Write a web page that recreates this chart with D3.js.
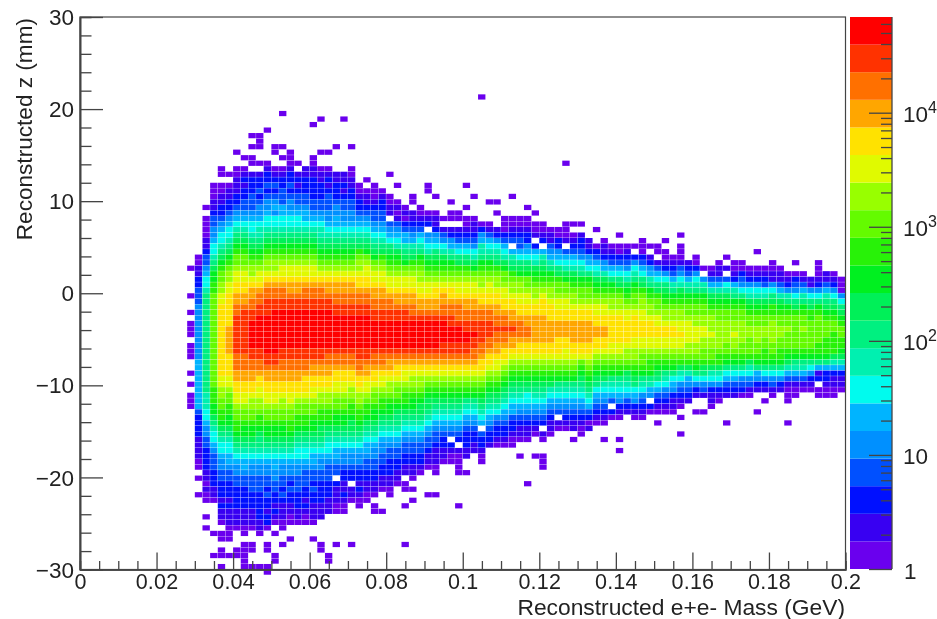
<!DOCTYPE html>
<html><head><meta charset="utf-8">
<script src="https://cdn.jsdelivr.net/npm/d3@7"></script>
<style>
html,body{margin:0;padding:0;background:#fff;overflow:hidden}
svg{display:block;filter:blur(0.45px)}
text{font-family:"Liberation Sans",Arial,sans-serif;fill:#222}
</style></head><body>
<svg id="c" width="937" height="619"></svg>
<script>
// Histogram: 100 x 100 bins. Each column lists colour levels from its first filled row downward.
const massBinCount = 100, zBinCount = 100, firstColumn = 14;
const startRows = [45,43,34,30,27,28,24,25,21,21,20,23,17,24,26,27,19,18,24,23,18,23,30,29,30,31,28,30,34,32,34,30,32,36,33,35,30,32,14,33,33,36,32,36,34,35,37,38,38,26,37,37,40,38,40,41,39,41,41,40,41,41,40,43,39,44,43,45,45,44,43,44,44,45,42,45,44,45,46,44,46,47,44,46,46,47];
const columnLevels = [
"0....0..0.000.000..0.0.000",
"001122333444444444455555555532222111100.0..0",
"0.00001123345667888888888888888888777665443322221101 00..0.0",
"0001123344566789aabbcccccccccccccccccbbbaa9876654333222110.....0...0",
"00.00112234566789abccddeefffffffffffffeeddccbba987665443322212110.00.00.0",
"0.0112234566789abcddeeffffffgggggffffeedccbbaa98766554332221211100 0..0",
"0..00111223456789abccdeeffgghhiiiiiiihhhggffeedccbba98765443322221110...00",
"0.01212233456789abccdeeffgghiiiiiiiihhhggffeedccbaa987655433222211100.00000",
"0.0.00.1222333456678 9abcddefgghhiijjjjjiihhggffeddccbaa98765443332221110..00..0",
"000..0.1223234456778 9abcdeefghhiijjjjjjiihhgffeeddcbba9887654433322222110.....0",
"0.....01223234456678 9abcddefghhiiijjjjjjjiihggffeedccbaa9876544332322122 0..00..00",
"00..012323454667 89abcddefghhiijjjjjjjjiihggffeedccbaa987655443322121 0.0...00",
"0.....0.0.0122333556678 9abcdeefghhiijjjjjjjiihhggffeddccbaa98765443323211100..0",
"00012232344566789abcdeefgghiijjjjjjjiihhggffeedccbba98765443232211 00..0",
"0.12123345667 89abcdeefgghiijjjjjjjiihhggffedccbba98766544333222110",
"11222334556789abcdeefghhiijjjjjjjiihhgfffedccbba98766543332 212100",
"0.....0011222233456789abcdeefghhiijjjjjjjiihggffeedccbaa98765543323221110..0",
"0.....0..0112223345677 89abcdefghhiijjjjjjjiihggffeddcbba9987654433222211 1....00",
"0..012123334456789abcdefgghiijjjjjjjihhggffeddcbba9876654333222111.......00",
"0....112223 44556789abcdefgghhiijjjjjjihhgffeedccbaa98765543 3.211100.....0",
"0.........112123344 56789abcdefgghhiijjjjjjihhgffeedccbaa98765443 22112100",
"0...001122334456789abcdefgghhiijjjjjjihhgffeddcbba99876544322.110.......0",
"00122345 6789bcddeffghhiijjjjjjiihhgffeddcbba98765443221 2100",
"0.01123456789acdeeffghhiijjjjjjiihggfeedcbba987655433221100",
"0001233456789acdeefgghhiijjjjjihhgffedccbaa98765443322110.00",
"012233456789bcdeefgghhiijjjjjihhgfeedcbba98765443322110...0",
"0...0011.3456 89abcdeefghhiijjjjjihggfeddcbaa98765433222 1100",
"0..0101345679abcdeefgghiijjjjjihgffedccba98876543322110",
"01023557 89acdeefgghiijjjjjihgfeedcbba9876543322 11.00..0......0",
"00.1123457 89bcdeefgghhijjjjjihgfeddcbaa9876543322110.0.0",
"001235678abcddeefgghijjjjjihgfeddcba99876543322 10",
"00...012.45679abcdeefgghijjjjjihgfedcba998765433211 0....0",
"0..0112456 89abcdeffgghijjjjjihgfedcba9876543321 1100...0",
"0.134679abcdefgghhijjjjiihgfedcba9876543221 10",
"0.00.124578abcdeffghhiijjjiihgfedcba9876543.2100",
"00.1235689bcdeefghhhijjjiihgfedcba98765432.10000.....0",
"0...0.0012356 89bcdeefgghhiijjiihgfedcba87654 32221 1..0",
"0...01123467 9acdeefgghhiijiihhgfedcba8765432211",
"0......................0245 7 78abcddeffghhiiiihhgffedcba98765.32210 0",
"0...013567 8abcdeeffghhiiihhgffedcba9876543221",
"0.0..12467 89bcddeffgghhihhggfeedcba98764 32210",
"000235679accdeeffghhihhgffedcba98765432210",
"0...00123.5789bcddeffgghihggfedcba98765 532210 0",
"001233568 9acddeeffghhhgffedcba98765432110..0",
"0.001224568 9accdeeffgghhgffedcba986654321 10.......0",
"0.001.2567 9abcddeffgggggffedcba9876543210...0",
"0012.5789abcdefffgggggffedcba98765432.10..000",
"0113457 8abcddefffggggffedcba9765432110",
"0022456 89bccdeeffgggfffedcba87654 3.10",
"0..........0001.35679accdeeffgggffeedcba876543210",
"0.012356 79abcddeffggggffedcba8765432 11.0",
"0.1223467 8abccdeffggggffecba98765432100",
"112456 8abccdeffggggffedcba98765 3201",
"0..0235679abcdeeffggffedcba986543210",
"0112457 9abcdeeffggffedcba976543 210..0",
"012356 8abcddefffffeedcba87653.20",
"0.0023568 9bcddefffffeedcba876542 10...0.0",
"01234679abcdeeffffeddcb98765321",
"0.2467 8abccdeffffeeddcba986542 10",
"00023568 9bcddeefffeedccba876432 10",
"0.124578abcddefffeedcbba8754.20",
"00.1356 89bccdeeffeedcba9865321 0.0",
"0.0012468 9abcddeffeedcba87643210",
"012357 8abcddeffeedcba8654 2110",
"0.0001346 79abcddeefeedcb9764321 0.0..0",
"12357 8abccdeeeeddcb975 4321",
"0024678abccddeeeddcba864 21..0",
"0.478abccddeeddccb98 6431..0",
"013 579abcdddeddccb976 42110",
"01135 79abccdddddcbb976 4210",
"0.1.367 9abccddddccba8 6532 1....0",
"00125 78abccddeddcba8 65321",
"0023468abccddddccba864320",
"01246 79abccddcccb97643 10",
"0..012467 9abccdddccba8 5421...0",
"0123 679abccddccbba8 6421.0",
"0011468 9bbcddddccba86 4310",
"0113 579abccddccbba86 421",
"0124 78abccdcccba9 75310 00...0",
"0.023468 9bccccccba87 53100",
"01357 8abccdcccba8 75310",
"11468 9bbcccccba86 4210",
"000124 68abcccccbba85 12.00",
"113 5789abcccbbba8 522100",
"01246 89abccbbbb9 752 1100",
"00046 89abccbba9 752110"
].map(s=>s.replace(/ /g,""));
const palette = ["#6a00ee","#3800f2","#0010ff","#0050ff","#0090ff","#00b4ff","#00fbee","#00f0b0","#00f080","#00f058","#00f020","#28f208","#64fb00","#98ff00","#e0fa00","#ffe200","#ffa600","#ff7000","#ff3200","#ff0000"];
const massTicks = [0,0.02,0.04,0.06,0.08,0.1,0.12,0.14,0.16,0.18,0.2];
const massTickLabels = ["0","0.02","0.04","0.06","0.08","0.1","0.12","0.14","0.16","0.18","0.2"];
const zTicks = [30,20,10,0,-10,-20,-30];
const countMajor = [1,10,100,1000,10000];
const countMinor = [2,3,4,5,6,7,8,9,20,30,40,50,60,70,80,90,200,300,400,500,600,700,800,900,2000,3000,4000,5000,6000,7000,8000,9000,20000,30000,40000,50000,60000];
const countMax = 69000;
const massTitle = "Reconstructed e+e- Mass (GeV)", zTitle = "Reconstructed z (mm)";

const svg = d3.select("#c");
const x = d3.scaleLinear().domain([0,0.2]).range([80,845.5]);
const y = d3.scaleLinear().domain([-30,30]).range([569.5,17]);
const col = d3.scaleLinear().domain([0,massBinCount]).range(x.domain());
const row = d3.scaleLinear().domain([0,zBinCount]).range([30,-30]);
const digits = "0123456789abcdefghij";
const cells = [];
columnLevels.forEach((s,k)=>{ [...s].forEach((c,j)=>{ if(c!==".") cells.push({i:firstColumn+k,r:startRows[k]+j,l:digits.indexOf(c)}); }); });
const gap = 0.3;
svg.append("g").selectAll("rect").data(cells).join("rect")
  .attr("x",d=>x(col(d.i))).attr("y",d=>y(row(d.r)))
  .attr("width",d=>x(col(d.i+1))-x(col(d.i))-gap)
  .attr("height",d=>y(row(d.r+1))-y(row(d.r))-gap)
  .attr("fill",d=>palette[d.l]);

// frame
const ink="#444";
svg.append("rect").attr("x",x(0)).attr("y",y(30)).attr("width",x(0.2)-x(0)).attr("height",y(-30)-y(30))
  .attr("fill","none").attr("stroke",ink).attr("stroke-width",1.2);

function style(g){ g.select(".domain").attr("stroke",ink).attr("stroke-width",1.6); g.selectAll("line").attr("stroke",ink).attr("stroke-width",1.3); }
// x axis
const xMinor = d3.range(0,41).map(d=>d*0.005).filter(v=>Math.abs(v/0.02-Math.round(v/0.02))>1e-6);
svg.append("g").attr("transform",`translate(0,${y(-30)})`).call(d3.axisBottom(x).tickValues(xMinor).tickSize(-8.5).tickFormat("")).call(style);
const gx = svg.append("g").attr("transform",`translate(0,${y(-30)})`).call(d3.axisBottom(x).tickValues(massTicks).tickSize(-17).tickSizeOuter(0).tickFormat((d,i)=>massTickLabels[i])).call(style);
gx.selectAll("text").attr("y",19.5).attr("dy",0).attr("font-size",21.5).attr("letter-spacing",0.25).attr("fill","#222").attr("font-family",'"Liberation Sans"');
// y axis
const yMinor = d3.range(-30,31,2).filter(v=>v%10!==0);
svg.append("g").attr("transform",`translate(${x(0)},0)`).call(d3.axisLeft(y).tickValues(yMinor).tickSize(-11.5).tickFormat("")).call(style);
const gy = svg.append("g").attr("transform",`translate(${x(0)},0)`).call(d3.axisLeft(y).tickValues(zTicks).tickSize(-23).tickSizeOuter(0).tickFormat(d=>d<0?"\u2212"+(-d):d)).call(style);
gy.selectAll("text").attr("x",-6).attr("dy","0.34em").attr("font-size",22.5).attr("fill","#222").attr("font-family",'"Liberation Sans"');
// titles
svg.append("text").attr("x",845).attr("y",615).attr("text-anchor","end").attr("font-size",22.8).text(massTitle);
svg.append("text").attr("transform","translate(32,18) rotate(-90)").attr("text-anchor","end").attr("font-size",22.6).text(zTitle);

// colour bar
const bar = {l:850,r:892};
const band = d3.scaleBand().domain(d3.range(palette.length)).range([569,17]);
svg.append("g").selectAll("rect").data(palette).join("rect")
  .attr("x",bar.l).attr("width",bar.r-bar.l)
  .attr("y",(d,i)=>band(i)).attr("height",band.bandwidth()).attr("fill",d=>d);
const c = d3.scaleLog().domain([1,countMax]).range([569,17]);
svg.append("line").attr("x1",bar.r).attr("x2",bar.r).attr("y1",17).attr("y2",569).attr("stroke",ink).attr("stroke-width",1.3);
svg.append("g").attr("transform",`translate(${bar.r},0)`).call(d3.axisLeft(c).tickValues(countMinor).tickSize(11).tickSizeOuter(0).tickFormat("")).call(style).select(".domain").remove();
svg.append("g").attr("transform",`translate(${bar.r},0)`).call(d3.axisLeft(c).tickValues(countMajor).tickSize(23).tickSizeOuter(0).tickFormat("")).call(style).select(".domain").remove();
countMajor.forEach(v=>{
  const p = Math.round(Math.log10(v));
  const t = svg.append("text").attr("x",903).attr("y",c(v)+9).attr("font-size",22.5);
  if(p===0) t.text("1").attr("x",904).attr("y",c(v)+10);
  else if(p===1) t.text("10").attr("x",903).attr("y",c(v)+9);
  else { t.append("tspan").text("10"); t.append("tspan").text(p).attr("dy",-9).attr("font-size",16); }
});
</script>
</body></html>
